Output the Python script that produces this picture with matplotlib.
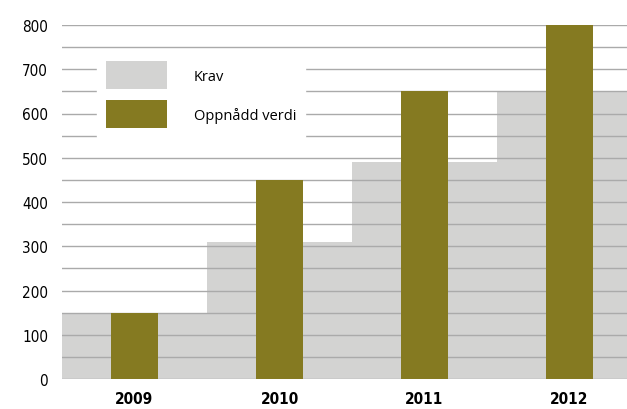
import matplotlib
matplotlib.use("Agg")
import matplotlib.pyplot as plt
from matplotlib import font_manager
import numpy as np

years = ["2009", "2010", "2011", "2012"]
krav = [150, 310, 490, 650]
oppnaadd = [150, 450, 650, 800]

names = {f.name for f in font_manager.fontManager.ttflist}
narrow = [n for n in ["Liberation Sans Narrow", "DejaVu Sans Condensed"] if n in names]
plt.rcParams['font.family'] = narrow + ['DejaVu Sans']
plt.rcParams['font.stretch'] = 'condensed'

fig = plt.figure(figsize=(6.27, 4.10), dpi=100)
# axes runs a little past the right edge, like the reference crop
ax = fig.add_axes([62 / 627, 30 / 410, 580 / 627, 354 / 410])

x = np.arange(len(years))
ax.bar(x, krav, width=1.0, color="#d3d3d2", zorder=1, label="Krav")
ax.bar(x, oppnaadd, width=0.33, color="#857a21", zorder=3, label="Oppnådd verdi")

ax.set_xlim(-0.5, 3.5)
ax.set_ylim(0, 800)
ax.set_yticks(np.arange(0, 801, 100))
ax.set_yticks(np.arange(0, 801, 50), minor=True)
ax.tick_params(axis="y", which="both", length=0, labelsize=11, pad=10)
ax.grid(axis="y", which="both", color="#aaaaaa", linewidth=1.0, zorder=2)
ax.set_axisbelow(False)
ax.set_xticks(x)
ax.set_xticklabels(years, fontweight="bold", fontsize=11)
ax.tick_params(axis="x", length=0, pad=9)
for s in ax.spines.values():
    s.set_visible(False)

leg = ax.legend(loc="upper left", bbox_to_anchor=(28 / 580, 334 / 354),
                frameon=True, fancybox=False, edgecolor="white", framealpha=1,
                handlelength=4.2, handleheight=2.6, handletextpad=1.8,
                labelspacing=0.75, borderpad=0.6,
                prop={"family": ["Open Sans", "DejaVu Sans"], "size": 10.5,
                      "stretch": "normal"})
leg.set_zorder(5)

fig.savefig("out.png", dpi=100)
